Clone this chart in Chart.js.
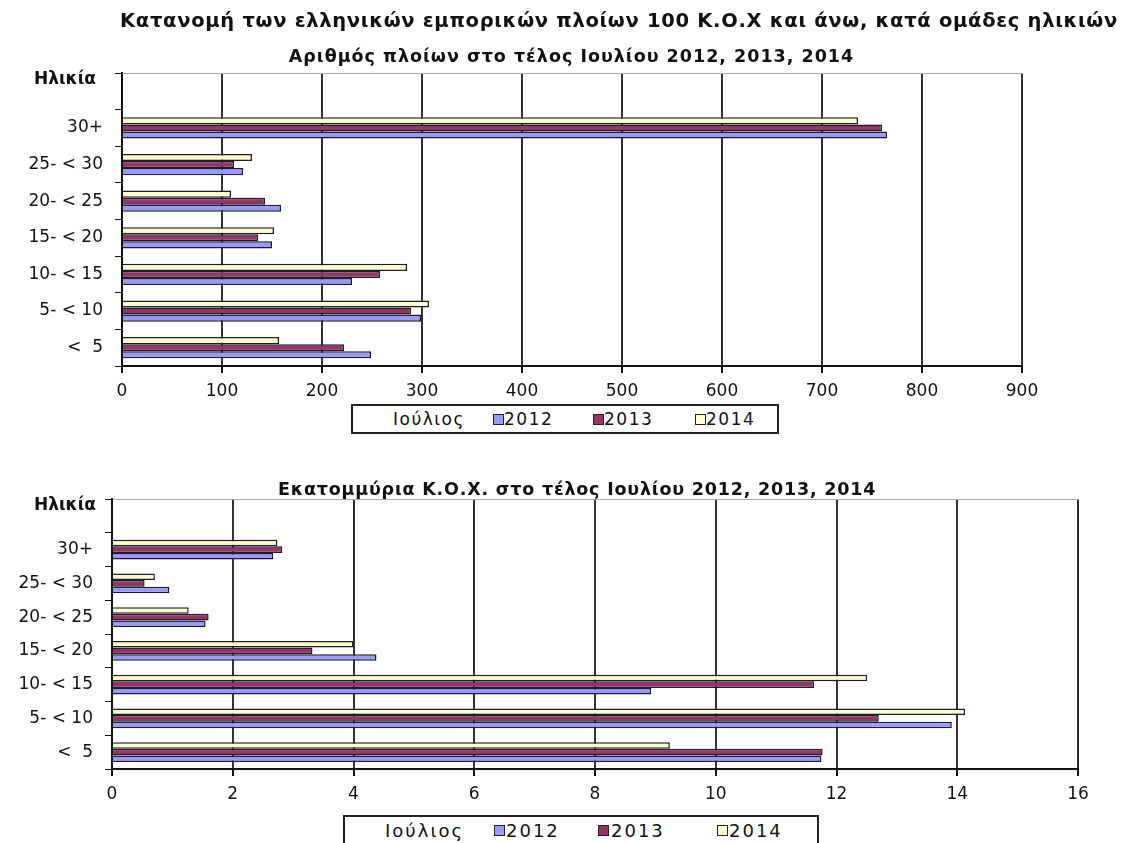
<!DOCTYPE html>
<html>
<head>
<meta charset="utf-8">
<script src="https://cdn.jsdelivr.net/npm/chart.js@4.4.0/dist/chart.umd.min.js"></script>
<style>
  body { margin: 0; background: #fff; }
  #page { position: relative; width: 1124px; height: 843px; overflow: hidden; font-family: "DejaVu Sans", sans-serif; color: #111; }
  canvas { position: absolute; left: 0; }
  .txt { position: absolute; white-space: nowrap; font-weight: bold; text-align: center; }
  .legend { position: absolute; border: 2px solid #222; background: #fff; box-sizing: border-box; }
  .legend span { position: absolute; top: 3px; }
  .legend .sw { top: 8px; width: 9px; height: 9px; border: 1px solid #222; }
</style>
</head>
<body>
<div id="page">
  <canvas id="shipsChart" width="1124" height="420" style="top:0px"></canvas>
  <canvas id="gtChart" width="1124" height="380" style="top:430px"></canvas>

  <div class="txt" style="left:120px; width:998px; top:9px; font-size:19.5px; letter-spacing:0.7px;">Κατανομή των ελληνικών εμπορικών πλοίων 100 Κ.Ο.Χ και άνω, κατά ομάδες ηλικιών</div>
  <div class="txt" style="left:285px; width:573px; top:46px; font-size:17.5px; letter-spacing:1px;">Αριθμός πλοίων στο τέλος Ιουλίου 2012, 2013, 2014</div>
  <div class="txt" style="left:34px; top:68px; font-size:17px;">Ηλικία</div>

  <div class="legend" style="left:351px; top:404px; width:428px; height:30px; font-size:17px; letter-spacing:1.5px;">
    <span style="left:40px">Ιούλιος</span>
    <span class="sw" style="left:140px; background:#9999ff"></span><span style="left:151px">2012</span>
    <span class="sw" style="left:240px; background:#993366"></span><span style="left:251px">2013</span>
    <span class="sw" style="left:342px; background:#ffffcc"></span><span style="left:353px">2014</span>
  </div>

  <div class="txt" style="left:278px; width:594px; top:479px; font-size:17.5px; letter-spacing:0.8px;">Εκατομμύρια Κ.Ο.Χ. στο τέλος Ιουλίου 2012, 2013, 2014</div>
  <div class="txt" style="left:34px; top:494px; font-size:17px;">Ηλικία</div>

  <div class="legend" style="left:343px; top:815px; width:476px; height:30px; font-size:18px; letter-spacing:2px;">
    <span style="left:40px">Ιούλιος</span>
    <span class="sw" style="left:149px; background:#9999ff"></span><span style="left:161px">2012</span>
    <span class="sw" style="left:253px; background:#993366"></span><span style="left:266px">2013</span>
    <span class="sw" style="left:372px; background:#ffffcc"></span><span style="left:384px">2014</span>
  </div>
</div>

<script>
// age groups, top to bottom
const ageGroups = ['30+', '25- < 30', '20- < 25', '15- < 20', '10- < 15', '5- < 10', '<  5'];

// number of ships, end of July
const ships2012 = [765, 121, 159, 150, 230, 299, 249];
const ships2013 = [760, 112, 143, 136, 258, 289, 222];
const ships2014 = [736, 130, 109, 152, 285, 307, 157];

// million GT, end of July
const gt2012 = [2.67, 0.95, 1.55, 4.38, 8.93, 13.91, 11.75];
const gt2013 = [2.82, 0.54, 1.60, 3.32, 11.63, 12.70, 11.77];
const gt2014 = [2.74, 0.71, 1.27, 4.00, 12.51, 14.13, 9.24];

const color2012 = '#9999ff';
const color2013 = '#993366';
const color2014 = '#ffffcc';

Chart.defaults.font.family = '"DejaVu Sans", sans-serif';
Chart.defaults.color = '#111';

// first row is the empty "Ηλικία" row
function buildData(v2012, v2013, v2014) {
  const common = { borderColor: '#1c1c2c', borderWidth: 1.5, categoryPercentage: 0.58, barPercentage: 1 };
  return {
    labels: [''].concat(ageGroups),
    // inside each group: 2014 on top, then 2013, then 2012
    datasets: [
      Object.assign({ label: '2014', data: [null].concat(v2014), backgroundColor: color2014 }, common),
      Object.assign({ label: '2013', data: [null].concat(v2013), backgroundColor: color2013 }, common),
      Object.assign({ label: '2012', data: [null].concat(v2012), backgroundColor: color2012 }, common)
    ]
  };
}

function buildOptions(xMax, xStep, axisWidth, padTop, padRight, axisHeight) {
  return {
    indexAxis: 'y',
    responsive: false,
    animation: false,
    layout: { padding: { top: padTop, right: padRight, left: 0, bottom: 0 } },
    plugins: { legend: { display: false }, tooltip: { enabled: false } },
    scales: {
      x: {
        type: 'linear', min: 0, max: xMax,
        ticks: { stepSize: xStep, font: { size: 17 }, padding: 8 },
        grid: { color: '#333', lineWidth: 2, tickLength: 7, tickColor: '#111' },
        border: { color: '#111', width: 2 },
        afterFit: function (s) { s.height = axisHeight; }
      },
      xTop: {
        type: 'linear', position: 'top', min: 0, max: xMax,
        ticks: { display: false },
        grid: { display: false, drawTicks: false },
        border: { color: '#aaa', width: 1 },
        afterFit: function (s) { s.height = 0; }
      },
      y: {
        grid: { drawOnChartArea: false, color: '#111', tickLength: 7 },
        border: { color: '#111', width: 2 },
        ticks: { font: { size: 17 }, padding: 12 },
        afterFit: function (s) { s.width = axisWidth; }
      }
    }
  };
}

new Chart(document.getElementById('shipsChart'), {
  type: 'bar',
  data: buildData(ships2012, ships2013, ships2014),
  options: buildOptions(900, 100, 122, 73, 102, 54)
});

new Chart(document.getElementById('gtChart'), {
  type: 'bar',
  data: buildData(gt2012, gt2013, gt2014),
  options: buildOptions(16, 2, 112, 69, 46, 41)
});
</script>
</body>
</html>
